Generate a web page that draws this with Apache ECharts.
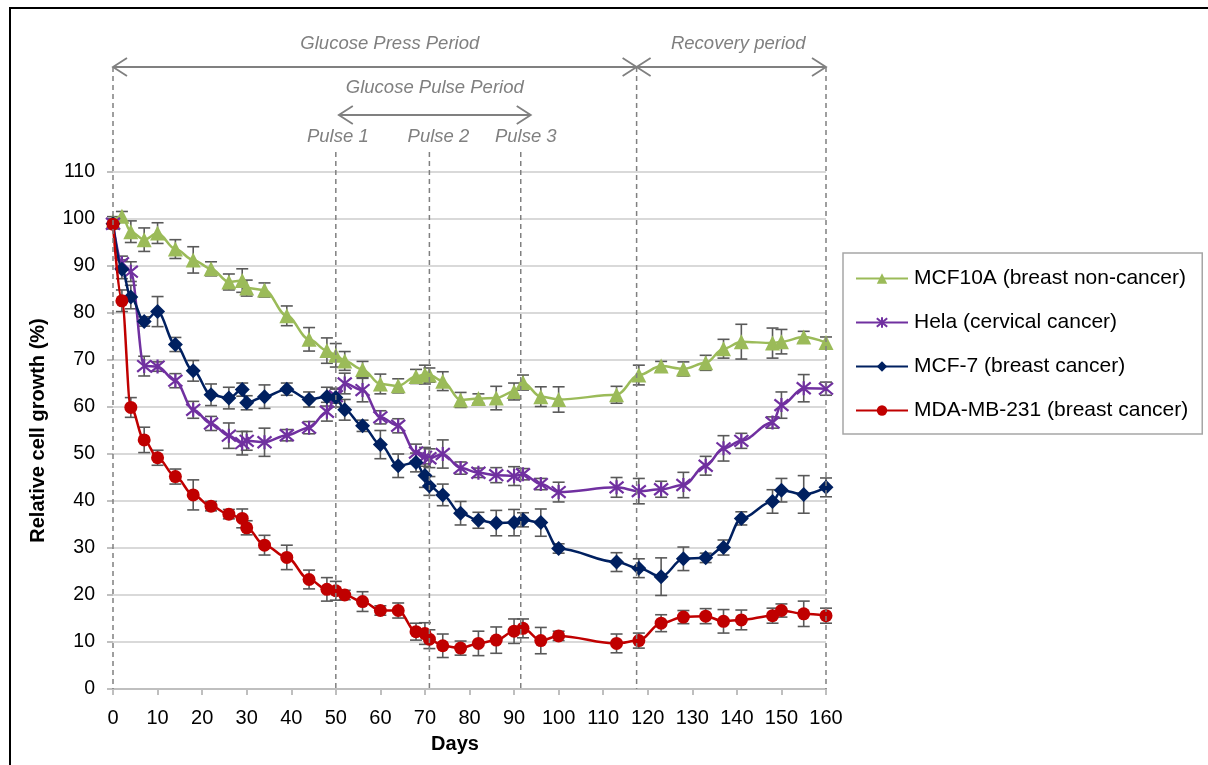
<!DOCTYPE html>
<html>
<head>
<meta charset="utf-8">
<script src="https://cdn.jsdelivr.net/npm/echarts@6/dist/echarts.min.js"></script>
<style>
  html, body { margin: 0; padding: 0; background: #fff; }
  #chart { width: 1208px; height: 765px; }
</style>
</head>
<body>
<div id="chart"></div>
<script>
// Sampling days (shared by all cell lines)
const days = [0, 2, 4, 7, 10, 14, 18, 22, 26, 29, 30, 34, 39, 44, 48, 50, 52, 56, 60, 64,
              68, 70, 71, 74, 78, 82, 86, 90, 92, 96, 100, 113, 118, 123, 128, 133, 137, 141,
              148, 150, 155, 160];

// Relative cell growth (%)
const mcf10a = [99.5, 100.6, 97.3, 95.6, 97.0, 93.6, 91.3, 89.4, 86.6, 86.9, 85.3, 84.9, 79.4, 74.4,
                72.0, 71.0, 69.8, 68.0, 64.9, 64.5, 66.5, 66.9, 66.8, 65.5, 61.5, 61.8, 61.9, 63.3,
                65.2, 62.2, 61.6, 62.6, 66.8, 68.7, 68.1, 69.4, 72.4, 73.9, 73.6, 73.9, 74.9, 73.7];
const hela = [99.0, 90.6, 88.8, 68.7, 68.6, 65.6, 59.4, 56.5, 53.9, 52.3, 52.8, 52.5, 54.0, 55.6,
              59.0, 62.3, 65.0, 63.6, 57.8, 56.0, 50.3, 49.4, 49.1, 50.0, 47.0, 46.0, 45.5, 45.3,
              45.7, 43.6, 41.9, 42.9, 42.1, 42.5, 43.4, 47.5, 51.2, 52.8, 56.7, 60.4, 64.0, 63.9];
const mcf7 = [99.0, 89.3, 83.4, 78.2, 80.3, 73.3, 67.7, 62.6, 61.9, 63.7, 60.9, 62.2, 63.8, 61.6,
              62.2, 62.0, 59.4, 56.0, 52.0, 47.5, 48.2, 45.4, 43.2, 41.3, 37.4, 35.9, 35.3, 35.4,
              36.0, 35.4, 29.9, 27.0, 25.7, 23.9, 27.7, 27.9, 30.1, 36.3, 39.9, 42.3, 41.4, 42.9];
const mda = [98.9, 82.6, 59.9, 53.0, 49.2, 45.2, 41.3, 38.9, 37.2, 36.3, 34.3, 30.6, 28.0, 23.3,
             21.2, 20.9, 20.0, 18.6, 16.7, 16.7, 12.2, 11.8, 10.6, 9.2, 8.7, 9.7, 10.4, 12.3,
             12.9, 10.3, 11.3, 9.7, 10.3, 14.0, 15.3, 15.5, 14.4, 14.7, 15.6, 16.7, 16.0, 15.6];

// Error bar half-widths (%)
const mcf10aErr = [1, 1, 2.3, 2.5, 2.2, 2.0, 2.8, 1.5, 1.7, 2.5, 1.7, 1.5, 2.1, 2.5, 2.7, 2.5, 2.0,
                   1.7, 2.1, 1.5, 1.5, 2.0, 1.5, 2.0, 1.6, 1.0, 2.5, 1.8, 1.6, 2.1, 2.7, 1.8, 2.1,
                   1.0, 1.5, 1.6, 2.0, 3.7, 3.2, 2.6, 1.2, 1.2];
const helaErr = [1, 1.5, 2.1, 2.1, 1.0, 1.5, 1.8, 1.5, 2.7, 2.5, 2.0, 3.0, 1.2, 1.3, 2.0, 1.5, 2.2,
                 2.5, 1.4, 1.5, 1.8, 2.0, 2.0, 3.0, 1.3, 1.0, 1.6, 2.0, 1.2, 1.2, 2.1, 2.1, 2.7,
                 1.7, 2.7, 2.0, 2.7, 1.6, 1.2, 2.8, 2.9, 1.4];
const mcf7Err = [1, 2, 2.5, 1, 3.2, 1.5, 2.2, 2.3, 2.3, 1.4, 1.5, 2.5, 1.3, 1.6, 2, 2, 2.2, 1.2, 3,
                 2.5, 2, 2.5, 2, 2.3, 2.5, 1.7, 2.7, 2.8, 1.5, 2.9, 1, 2, 2, 4, 2.5, 1, 1.6, 1.4,
                 2.5, 2.5, 4, 2];
const mdaErr = [1, 2.3, 2.1, 2.7, 1.6, 1.6, 3.2, 1, 1, 2, 1.5, 2.1, 2.6, 2, 2.5, 2, 1, 2.1, 1, 1.6,
                1.8, 2.3, 2, 2.5, 1.5, 2.6, 2.8, 2.6, 2, 2.8, 1, 2, 1.6, 1.8, 1.4, 1.6, 2.5, 2.1,
                1.6, 1.4, 2.7, 1.6];

// Experimental phases and glucose pulses (days)
const phaseBounds = [0, 117.5, 160];
const phaseNames = ['Glucose Press Period', 'Recovery period'];
const pulseDays = [50, 71, 91.5];
const pulseNames = ['Pulse 1', 'Pulse 2', 'Pulse 3'];
const pulseSpanName = 'Glucose Pulse Period';

const FONT = "'Liberation Sans', Arial, sans-serif";
const ANNOT = '#808080';

const seriesDefs = [
  { name: 'MCF10A (breast non-cancer)', values: mcf10a, err: mcf10aErr, color: '#9BBB59',
    symbol: 'triangle', size: 15 },
  { name: 'Hela (cervical cancer)', values: hela, err: helaErr, color: '#7030A0',
    symbol: 'path://M0,0L10,10M10,0L0,10M5,-1L5,11', size: 14, stroke: true },
  { name: 'MCF-7 (breast cancer)', values: mcf7, err: mcf7Err, color: '#002060',
    symbol: 'diamond', size: 15 },
  { name: 'MDA-MB-231 (breast cancer)', values: mda, err: mdaErr, color: '#C00000',
    symbol: 'circle', size: 13 }
];

const errData = [];
seriesDefs.forEach(function (s) {
  days.forEach(function (d, i) {
    if (s.values[i] != null) errData.push([d, s.values[i], s.err[i]]);
  });
});

const chart = echarts.init(document.getElementById('chart'), null, { renderer: 'canvas' });

const series = [{
  type: 'custom',
  name: 'errors',
  z: 1,
  silent: true,
  data: errData,
  encode: { x: 0, y: 1 },
  renderItem: function (params, api) {
    const x = api.value(0), y = api.value(1), e = api.value(2);
    const lo = api.coord([x, y - e]);
    const hi = api.coord([x, y + e]);
    const cap = 6;
    const style = { stroke: '#595959', lineWidth: 1.6, fill: null };
    return {
      type: 'group',
      children: [
        { type: 'line', shape: { x1: lo[0], y1: lo[1], x2: hi[0], y2: hi[1] }, style: style },
        { type: 'line', shape: { x1: lo[0] - cap, y1: lo[1], x2: lo[0] + cap, y2: lo[1] }, style: style },
        { type: 'line', shape: { x1: hi[0] - cap, y1: hi[1], x2: hi[0] + cap, y2: hi[1] }, style: style }
      ]
    };
  }
}];

seriesDefs.forEach(function (s, k) {
  series.push({
    type: 'line',
    name: s.name,
    z: 3 + k,
    data: days.map(function (d, i) { return [d, s.values[i]]; }),
    connectNulls: true,
    smooth: 0.35,
    smoothMonotone: 'x',
    symbol: s.symbol,
    symbolSize: s.size,
    showAllSymbol: true,
    lineStyle: { color: s.color, width: 2.5 },
    itemStyle: s.stroke
      ? { color: s.color, borderColor: s.color, borderWidth: 2.2 }
      : { color: s.color, borderWidth: 0 },
    emphasis: { disabled: true }
  });
});

chart.setOption({
  animation: false,
  backgroundColor: '#fff',
  textStyle: { fontFamily: FONT },
  grid: { left: 113, right: 382, top: 172, bottom: 76, containLabel: false },
  xAxis: {
    type: 'value',
    min: 0, max: 160, interval: 10,
    axisLine: { show: true, lineStyle: { color: '#bfbfbf', width: 2 } },
    axisTick: { show: true, length: 6, lineStyle: { color: '#bfbfbf', width: 2 } },
    axisLabel: { color: '#000', fontSize: 20, fontFamily: FONT, margin: 19 },
    splitLine: { show: false }
  },
  yAxis: {
    type: 'value',
    min: 0, max: 110, interval: 10,
    axisLine: { show: false },
    axisTick: { show: true, length: 6, lineStyle: { color: '#bfbfbf', width: 2 } },
    axisLabel: { color: '#000', fontSize: 19.5, fontFamily: FONT, margin: 18 },
    splitLine: { show: true, lineStyle: { color: '#d9d9d9', width: 2 } }
  },
  legend: {
    orient: 'vertical',
    left: 843, top: 253,
    padding: [15, 14, 13, 12],
    itemGap: 23,
    itemWidth: 52,
    itemHeight: 13,
    borderColor: '#a6a6a6',
    borderWidth: 1.5,
    selectedMode: false,
    textStyle: { color: '#000', fontSize: 21, fontFamily: FONT, lineHeight: 21, padding: [0, 0, 0, 1] },
    data: seriesDefs.map(function (s) { return s.name; })
  },
  series: series
});

// Annotation overlay positioned from the axis scales
const px = function (d) { return chart.convertToPixel({ xAxisIndex: 0 }, d); };
const py = function (v) { return chart.convertToPixel({ yAxisIndex: 0 }, v); };
const plotTop = py(110);
const plotBottom = py(0);
const arrowY = plotTop - 105;
const pulseArrowY = plotTop - 57;
const dashStyle = { stroke: ANNOT, lineWidth: 1.5, lineDash: [5, 4], fill: null };
const solidStyle = { stroke: ANNOT, lineWidth: 1.8, fill: null };
const textStyle = { fill: ANNOT, font: "italic 18.5px " + FONT, textAlign: 'center', textVerticalAlign: 'middle' };

function arrow(x1, x2, y) {
  const hl = 14, hw = 9;
  return [
    { type: 'line', shape: { x1: x1, y1: y, x2: x2, y2: y }, style: solidStyle, z: 10 },
    { type: 'polyline', shape: { points: [[x1 + hl, y - hw], [x1, y], [x1 + hl, y + hw]] }, style: solidStyle, z: 10 },
    { type: 'polyline', shape: { points: [[x2 - hl, y - hw], [x2, y], [x2 - hl, y + hw]] }, style: solidStyle, z: 10 }
  ];
}

const g = [];
// outer frame
g.push({ type: 'rect', shape: { x: 10, y: 8, width: 1210, height: 800 },
         style: { stroke: '#000', lineWidth: 2, fill: null }, z: 20, silent: true });
// phase boundaries
phaseBounds.forEach(function (d) {
  const x = px(d);
  g.push({ type: 'line', shape: { x1: x, y1: arrowY, x2: x, y2: plotBottom }, style: dashStyle, z: 10 });
});
// phase arrows and titles
for (let i = 0; i < phaseNames.length; i++) {
  const a = px(phaseBounds[i]), b = px(phaseBounds[i + 1]);
  arrow(a, b, arrowY).forEach(function (e) { g.push(e); });
  g.push({ type: 'text', x: (a + b) / 2 + (i === 0 ? 15 : 7), y: arrowY - 23, z: 10,
           style: Object.assign({ text: phaseNames[i] }, textStyle) });
}
// pulse markers
pulseDays.forEach(function (d, i) {
  const x = px(d);
  g.push({ type: 'line', shape: { x1: x, y1: plotTop - 20, x2: x, y2: plotBottom }, style: dashStyle, z: 10 });
  g.push({ type: 'text', x: x + (i === 0 ? 2 : (i === 1 ? 9 : 5)), y: plotTop - 35, z: 10,
           style: Object.assign({ text: pulseNames[i] }, textStyle) });
});
// pulse span arrow
const pa = px(pulseDays[0]) + 3, pb = px(pulseDays[pulseDays.length - 1]) + 10;
arrow(pa, pb, pulseArrowY).forEach(function (e) { g.push(e); });
g.push({ type: 'text', x: (pa + pb) / 2, y: pulseArrowY - 27, z: 10,
         style: Object.assign({ text: pulseSpanName }, textStyle) });
// axis titles
g.push({ type: 'text', x: 455, y: plotBottom + 55, z: 10,
         style: { text: 'Days', fill: '#000', font: "bold 20px " + FONT, textAlign: 'center', textVerticalAlign: 'middle' } });
g.push({ type: 'text', x: 38, y: (plotTop + plotBottom) / 2, rotation: Math.PI / 2, z: 10,
         style: { text: 'Relative cell growth (%)', fill: '#000', font: "bold 20px " + FONT, textAlign: 'center', textVerticalAlign: 'middle' } });

chart.setOption({ graphic: g });
</script>
</body>
</html>
